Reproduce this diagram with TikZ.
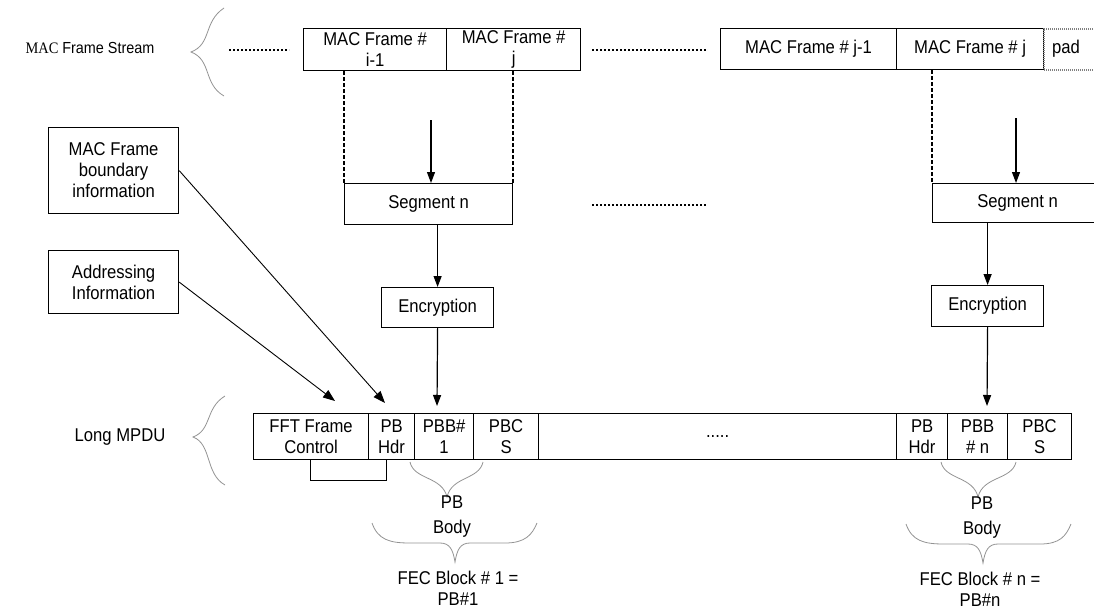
\documentclass[tikz,border=0pt]{standalone}
\usepackage{fontspec}
\setmainfont{Liberation Sans}[FakeStretch=0.9]
\newfontfamily\macserif{Liberation Serif}[FakeStretch=0.9]
\usetikzlibrary{arrows.meta}
\begin{document}
\begin{tikzpicture}[x=1pt,y=-1pt,
  box/.style={draw, line width=1.2pt, inner sep=0pt, anchor=north west, align=center, font=\fontsize{18.5}{21}\selectfont},
  lbl/.style={inner sep=0pt, align=center, font=\fontsize{18.5}{21}\selectfont},
  arr/.style={line width=1.2pt, -{Triangle[length=11pt,width=8pt]}},
  darr/.style={line width=0.9pt, -{Triangle[length=12pt,width=9pt]}},
  dotline/.style={line width=2.4pt, dash pattern=on 2.4pt off 1.6pt},
  vdash/.style={line width=2.2pt, dash pattern=on 4pt off 2pt},
  brc/.style={draw=gray!85, line width=0.8pt}]
\useasboundingbox (0,0) rectangle (1094,613);

% ---- MAC frame stream ----
\node[lbl, font=\fontsize{16}{18}\selectfont] (mfs) at (90,48) {{\macserif MAC} Frame Stream};
\draw[brc] (224,8) .. controls (203,22) and (212,44) .. (191,52) .. controls (212,60) and (203,84) .. (224,96);
\coordinate (d1a) at (229,50); \coordinate (d1b) at (289,50);
\draw[dotline] (d1a) -- (d1b);
\node[box, minimum width=143pt, minimum height=42pt] (f1) at (303,28) {MAC Frame \#\\i-1};
\node[box, minimum width=134pt, minimum height=42pt] (f2) at (446,28) {MAC Frame \#\\j};
\coordinate (d2a) at (592,50); \coordinate (d2b) at (707,50);
\draw[dotline] (d2a) -- (d2b);
\node[box, minimum width=176pt, minimum height=41pt] (f3) at (720,28) {MAC Frame \# j-1};
\node[box, minimum width=147pt, minimum height=41pt] (f4) at (896,28) {MAC Frame \# j};
\node[box, draw=gray, line width=2pt, dash pattern=on 1pt off 1pt, minimum width=60pt, minimum height=41pt] (pad) at (1043,28) {};
\node[lbl] (padt) at (1066,49) {pad};

% ---- segments ----
\node[box, minimum width=168pt, minimum height=41pt] (seg1) at (344,183) {Segment n};
\node[box, minimum width=170pt, minimum height=39pt] (seg2) at (932,183) {Segment n};
\draw[vdash] (seg1.north west |- f1.south) -- (seg1.north west);
\draw[vdash] (seg1.north east |- f2.south) -- (seg1.north east);
\draw[vdash] (seg2.north west |- f4.south) -- (seg2.north west);
\coordinate (a1) at (431,120);
\draw[arr] (a1) -- (a1 |- seg1.north);
\coordinate (a2) at (1016,118);
\draw[arr] (a2) -- (a2 |- seg2.north);
\coordinate (d3a) at (592,205); \coordinate (d3b) at (707,205);
\draw[dotline] (d3a) -- (d3b);

% ---- encryption ----
\node[box, minimum width=112pt, minimum height=40pt] (enc1) at (381,287) {Encryption};
\node[box, minimum width=112pt, minimum height=41pt] (enc2) at (931,285) {Encryption};
\draw[arr] (enc1.north |- seg1.south) -- (enc1.north);
\draw[arr] (enc2.north |- seg2.south) -- (enc2.north);

% ---- side info boxes ----
\node[box, minimum width=130pt, minimum height=86pt] (bnd) at (48,127) {MAC Frame\\boundary\\information};
\node[box, minimum width=130pt, minimum height=63pt] (adr) at (48,250) {Addressing\\Information};

% ---- long MPDU ----
\node[lbl] (lm) at (120,437) {Long MPDU};
\draw[brc] (225,396) .. controls (205,408) and (212,430) .. (193,437) .. controls (212,444) and (205,474) .. (225,485);
\node[box, minimum width=115pt, minimum height=46pt] (c1) at (253,413) {FFT Frame\\Control};
\node[box, minimum width=46pt, minimum height=46pt] (c2) at (368,413) {PB\\Hdr};
\node[box, minimum width=59pt, minimum height=46pt] (c3) at (414,413) {PBB\#\\1};
\node[box, minimum width=65pt, minimum height=46pt] (c4) at (473,413) {PBC\\S};
\node[box, minimum width=358pt, minimum height=46pt] (c5) at (538,413) {.....};
\node[box, minimum width=51pt, minimum height=46pt] (c6) at (896,413) {PB\\Hdr};
\node[box, minimum width=60pt, minimum height=46pt] (c7) at (947,413) {PBB\\\# n};
\node[box, minimum width=64pt, minimum height=46pt] (c8) at (1007,413) {PBC\\S};
\draw[line width=1pt] (310,459) -- (310,480) -- (386,480) -- (386,459);

% arrows into MPDU
\coordinate (t1) at (437,406);
\coordinate (t2) at (987,406);
\draw[arr] (enc1.south) -- (t1);
\draw[arr] (enc2.south) -- (t2);
\coordinate (tb) at (385,403);
\coordinate (ta) at (335,401);
\draw[darr] (bnd.east) -- (tb);
\draw[darr] (adr.east) -- (ta);

% ---- braces & labels, left ----
\draw[brc] (410,462) .. controls (414,480) and (442,476) .. (447,497) .. controls (452,476) and (479,480) .. (483,462);
\node[lbl] (pb1) at (452,517) {PB\\[4pt]Body};
\draw[brc] (372,523) .. controls (378,540) and (390,543) .. (410,543) -- (440,543) .. controls (450,543) and (453,550) .. (455,562) .. controls (457,550) and (460,543) .. (470,543) -- (505,543) .. controls (525,543) and (532,535) .. (537,523);
\node[lbl] (fec1) at (458,588) {FEC Block \# 1 =\\PB\#1};

% ---- braces & labels, right ----
\draw[brc] (941,462) .. controls (945,480) and (973,476) .. (978,497) .. controls (983,476) and (1012,480) .. (1016,462);
\node[lbl] (pb2) at (982,518) {PB\\[4pt]Body};
\draw[brc] (906,524) .. controls (912,541) and (924,544) .. (944,544) -- (968,544) .. controls (978,544) and (981,551) .. (983,563) .. controls (985,551) and (988,544) .. (998,544) -- (1040,544) .. controls (1060,544) and (1066,536) .. (1071,524);
\node[lbl] (fec2) at (980,589) {FEC Block \# n =\\PB\#n};
\end{tikzpicture}
\end{document}
